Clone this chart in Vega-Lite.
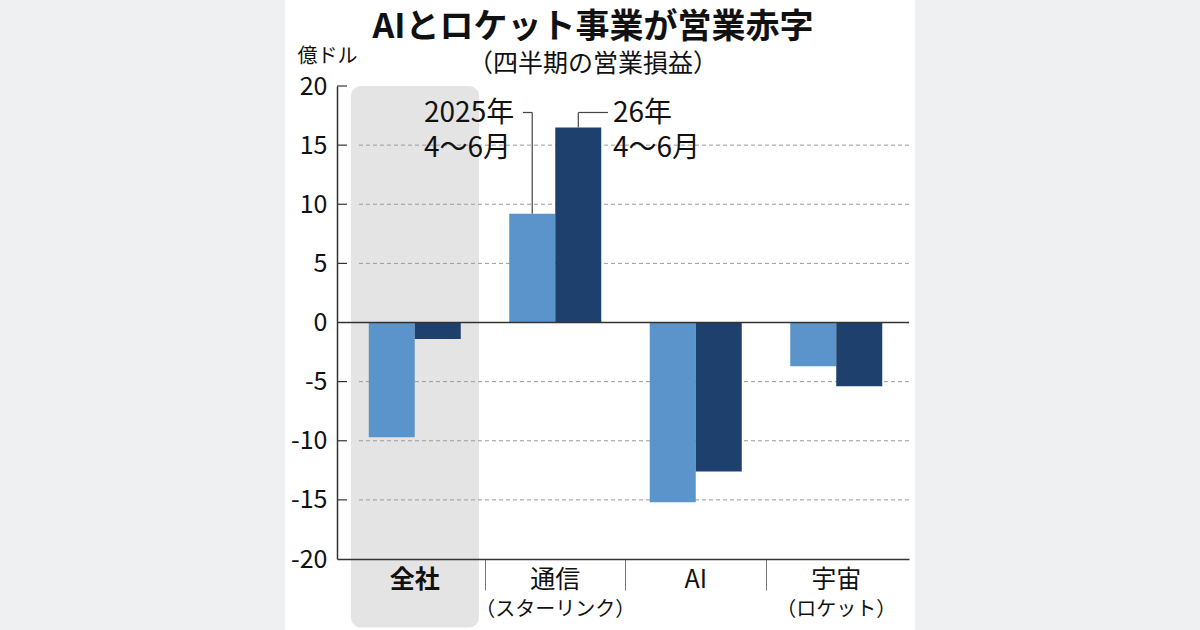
{
  "$schema": "https://vega.github.io/schema/vega-lite/v6.json",
  "description": "AIとロケット事業が営業赤字 (quarterly operating profit, 100M USD)",
  "width": 572,
  "height": 473,
  "autosize": {"type": "none"},
  "padding": {"left": 337, "top": 86, "right": 291, "bottom": 71},
  "background": "#eff0f2",
  "view": {"stroke": null},
  "title": {
    "text": "AIとロケット事業が営業赤字",
    "subtitle": "（四半期の営業損益）",
    "anchor": "middle",
    "frame": "group",
    "dx": -30,
    "offset": -77,
    "font": "Noto Sans CJK JP",
    "fontSize": 34,
    "fontWeight": "bold",
    "color": "#111111",
    "subtitleFont": "Noto Sans CJK JP",
    "subtitleFontSize": 25,
    "subtitleColor": "#111111",
    "subtitlePadding": 7,
    "zindex": 1
  },
  "datasets": {
    "profit": [
      {"segment": "全社", "period": "2025年4〜6月", "value": -9.7},
      {"segment": "全社", "period": "26年4〜6月", "value": -1.4},
      {"segment": "通信", "period": "2025年4〜6月", "value": 9.2},
      {"segment": "通信", "period": "26年4〜6月", "value": 16.5},
      {"segment": "AI", "period": "2025年4〜6月", "value": -15.2},
      {"segment": "AI", "period": "26年4〜6月", "value": -12.6},
      {"segment": "宇宙", "period": "2025年4〜6月", "value": -3.7},
      {"segment": "宇宙", "period": "26年4〜6月", "value": -5.4}
    ],
    "sublabels": [
      {"segment": "通信", "sub": "（スターリンク）"},
      {"segment": "宇宙", "sub": "（ロケット）"}
    ],
    "one": [{}]
  },
  "layer": [
    {
      "data": {"name": "one"},
      "mark": {"type": "rect", "color": "white", "clip": false},
      "encoding": {
        "x": {"datum": "全社", "type": "nominal", "bandPosition": -0.423},
        "x2": {"datum": "宇宙", "bandPosition": 1.06},
        "y": {"datum": 27.27, "type": "quantitative"},
        "y2": {"datum": -26.0}
      }
    },
    {
      "data": {"name": "one"},
      "mark": {"type": "rect", "color": "#e4e4e4", "cornerRadius": 10, "clip": false},
      "encoding": {
        "x": {"datum": "全社", "type": "nominal", "bandPosition": 0.046},
        "x2": {"datum": "全社", "bandPosition": 0.957},
        "y": {"datum": 20, "type": "quantitative"},
        "y2": {"datum": -25.8}
      }
    },
    {
      "data": {"values": [{"v": 15}, {"v": 10}, {"v": 5}, {"v": -5}, {"v": -10}, {"v": -15}]},
      "mark": {"type": "rule", "color": "#9a9a9a", "strokeDash": [4, 3], "strokeWidth": 1},
      "encoding": {
        "x": {"datum": "全社", "type": "nominal", "bandPosition": 0.103},
        "x2": {"datum": "宇宙", "bandPosition": 1.018},
        "y": {"field": "v", "type": "quantitative"}
      }
    },
    {
      "data": {"values": [{"v": 20}, {"v": 15}, {"v": 10}, {"v": 5}, {"v": -5}, {"v": -10}, {"v": -15}]},
      "mark": {"type": "rule", "color": "#333333", "strokeWidth": 1.2},
      "encoding": {
        "x": {"datum": "全社", "type": "nominal", "bandPosition": -0.053},
        "x2": {"datum": "全社", "bandPosition": 0.018},
        "y": {"field": "v", "type": "quantitative"}
      }
    },
    {
      "data": {"name": "profit"},
      "mark": {"type": "bar"},
      "encoding": {
        "x": {
          "field": "segment",
          "type": "nominal",
          "scale": {"domain": ["全社", "通信", "AI", "宇宙"], "paddingInner": 0, "paddingOuter": 0.0356, "align": 0.75},
          "axis": {
            "title": null,
            "orient": "bottom",
            "domainColor": "#333333",
            "domainWidth": 1.5,
            "bandPosition": 1,
            "tickExtra": false,
            "tickColor": "#777777",
            "tickWidth": 1,
            "tickSize": 31,
            "tickOpacity": {"condition": {"test": "datum.value === '宇宙'", "value": 0}, "value": 1},
            "labelFont": "Noto Sans CJK JP",
            "labelFontSize": 25,
            "labelFontWeight": {"condition": {"test": "datum.value === '全社'", "value": "bold"}, "value": "normal"},
            "labelColor": "#111111",
            "labelAlign": "center",
            "labelBaseline": "middle",
            "labelPadding": -11,
            "labelAngle": 0,
            "zindex": 1
          }
        },
        "xOffset": {
          "field": "period",
          "type": "nominal",
          "scale": {"domain": ["2025年4〜6月", "26年4〜6月"], "paddingInner": 0, "paddingOuter": 0.527}
        },
        "y": {
          "field": "value",
          "type": "quantitative",
          "scale": {"domain": [-20, 20], "nice": false, "zero": false},
          "axis": {
            "values": [20, 15, 10, 5, 0, -5, -10, -15, -20],
            "labelExpr": "'' + datum.value",
            "title": "億ドル",
            "titleAngle": 0,
            "titleAlign": "left",
            "titleBaseline": "alphabetic",
            "titleX": -40,
            "titleY": -24,
            "titleFont": "Noto Sans CJK JP",
            "titleFontSize": 20,
            "titleFontWeight": "normal",
            "titleColor": "#111111",
            "ticks": false,
            "grid": false,
            "labelFont": "Noto Sans CJK JP",
            "labelFontSize": 25,
            "labelColor": "#111111",
            "labelPadding": 10,
            "domainColor": "#333333",
            "domainWidth": 1.5,
            "zindex": 1
          }
        },
        "color": {
          "field": "period",
          "type": "nominal",
          "scale": {"domain": ["2025年4〜6月", "26年4〜6月"], "range": ["#5b93cb", "#1d406c"]},
          "legend": null
        }
      }
    },
    {
      "data": {"name": "one"},
      "mark": {"type": "rule", "color": "#333333", "strokeWidth": 1.5},
      "encoding": {"y": {"datum": 0, "type": "quantitative"}}
    },
    {
      "data": {"name": "sublabels"},
      "mark": {"type": "text", "font": "Noto Sans CJK JP", "fontSize": 20, "color": "#111111", "baseline": "middle", "align": "center"},
      "encoding": {
        "x": {"field": "segment", "type": "nominal"},
        "y": {"datum": -24.31, "type": "quantitative"},
        "text": {"field": "sub"}
      }
    },
    {
      "data": {"values": [{"a": 9.2, "b": 17.76}]},
      "mark": {"type": "rule", "color": "#444444", "strokeWidth": 1.2},
      "encoding": {
        "x": {"datum": "通信", "type": "nominal", "bandPosition": 0.336},
        "y": {"field": "a", "type": "quantitative"},
        "y2": {"field": "b"}
      }
    },
    {
      "data": {"values": [{"a": 16.5, "b": 17.76}]},
      "mark": {"type": "rule", "color": "#444444", "strokeWidth": 1.2},
      "encoding": {
        "x": {"datum": "通信", "type": "nominal", "bandPosition": 0.664},
        "y": {"field": "a", "type": "quantitative"},
        "y2": {"field": "b"}
      }
    },
    {
      "data": {"name": "one"},
      "mark": {"type": "rule", "color": "#444444", "strokeWidth": 1.2},
      "encoding": {
        "x": {"datum": "通信", "type": "nominal", "bandPosition": 0.336},
        "x2": {"datum": "通信", "bandPosition": 0.27},
        "y": {"datum": 17.76, "type": "quantitative"}
      }
    },
    {
      "data": {"name": "one"},
      "mark": {"type": "rule", "color": "#444444", "strokeWidth": 1.2},
      "encoding": {
        "x": {"datum": "通信", "type": "nominal", "bandPosition": 0.664},
        "x2": {"datum": "通信", "bandPosition": 0.875},
        "y": {"datum": 17.76, "type": "quantitative"}
      }
    },
    {
      "data": {"name": "one"},
      "mark": {"type": "text", "text": "2025年", "align": "left", "baseline": "middle", "font": "Noto Sans CJK JP", "fontSize": 28, "color": "#111111"},
      "encoding": {
        "x": {"datum": "通信", "type": "nominal", "bandPosition": -0.434},
        "y": {"datum": 17.6, "type": "quantitative"}
      }
    },
    {
      "data": {"name": "one"},
      "mark": {"type": "text", "text": "4〜6月", "align": "left", "baseline": "middle", "font": "Noto Sans CJK JP", "fontSize": 28, "color": "#111111"},
      "encoding": {
        "x": {"datum": "通信", "type": "nominal", "bandPosition": -0.434},
        "y": {"datum": 14.7, "type": "quantitative"}
      }
    },
    {
      "data": {"name": "one"},
      "mark": {"type": "text", "text": "26年", "align": "left", "baseline": "middle", "font": "Noto Sans CJK JP", "fontSize": 28, "color": "#111111"},
      "encoding": {
        "x": {"datum": "通信", "type": "nominal", "bandPosition": 0.911},
        "y": {"datum": 17.6, "type": "quantitative"}
      }
    },
    {
      "data": {"name": "one"},
      "mark": {"type": "text", "text": "4〜6月", "align": "left", "baseline": "middle", "font": "Noto Sans CJK JP", "fontSize": 28, "color": "#111111"},
      "encoding": {
        "x": {"datum": "通信", "type": "nominal", "bandPosition": 0.911},
        "y": {"datum": 14.7, "type": "quantitative"}
      }
    }
  ]
}
